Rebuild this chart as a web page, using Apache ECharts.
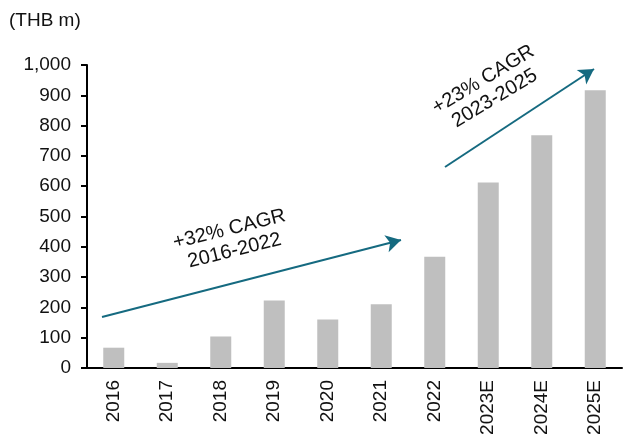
<!DOCTYPE html>
<html>
<head>
  <meta charset="UTF-8" />
  <script src="https://cdn.jsdelivr.net/npm/echarts@6/dist/echarts.min.js"></script>
  <style>
    body { margin: 0; padding: 0; background: #fff; }
    #main { width: 623px; height: 440px; }
  </style>
</head>
<body>
  <div id="main"></div>
  <script>
    const years = ['2016', '2017', '2018', '2019', '2020', '2021', '2022', '2023E', '2024E', '2025E'];
    const revenue = [67, 17, 104, 223, 160, 210, 367, 612, 768, 917];
    const yTicks = { min: 0, max: 1000, step: 100 };

    const font = '"Liberation Sans", Arial, sans-serif';
    const teal = '#156a80';

    let chart = echarts.init(document.getElementById('main'));

    chart.setOption({
      backgroundColor: '#fff',
      animation: false,
      grid: { left: 87, right: 1, top: 65, bottom: 72 },
      xAxis: {
        type: 'category',
        data: years,
        axisLine: { lineStyle: { color: '#000', width: 2 } },
        axisTick: { length: 6, lineStyle: { color: '#000', width: 2 } },
        axisLabel: {
          rotate: 90,
          margin: 12,
          color: '#111',
          fontSize: 19,
          fontFamily: font
        }
      },
      yAxis: {
        type: 'value',
        min: yTicks.min,
        max: yTicks.max,
        interval: yTicks.step,
        splitLine: { show: false },
        axisLine: { show: true, lineStyle: { color: '#000', width: 2 } },
        axisTick: { show: true, length: 6, lineStyle: { color: '#000', width: 2 } },
        axisLabel: {
          margin: 16,
          color: '#111',
          fontSize: 19,
          fontFamily: font,
          formatter: v => v.toLocaleString('en-US')
        }
      },
      series: [{
        type: 'bar',
        data: revenue,
        barWidth: 21,
        itemStyle: { color: '#bfbfbf' },
        markLine: {
          silent: true,
          symbol: ['none', 'arrow'],
          symbolSize: [13, 15],
          label: { show: false },
          lineStyle: { color: teal, width: 2, type: 'solid' },
          data: [
            [{ x: 102, y: 317 }, { x: 401, y: 240 }],
            [{ x: 445, y: 167 }, { x: 594, y: 69 }]
          ]
        }
      }],
      graphic: [
        {
          type: 'text',
          left: 9,
          top: 11,
          style: { text: '(THB m)', fill: '#111', font: '19px ' + font }
        },
        {
          type: 'text',
          x: 232,
          y: 240,
          rotation: 14 * Math.PI / 180,
          style: {
            text: '+32% CAGR\n2016-2022',
            fill: '#111',
            font: '20px ' + font,
            align: 'center',
            verticalAlign: 'middle',
            lineHeight: 22
          }
        },
        {
          type: 'text',
          x: 489,
          y: 89,
          rotation: 31 * Math.PI / 180,
          style: {
            text: '+23% CAGR\n2023-2025',
            fill: '#111',
            font: '20px ' + font,
            align: 'center',
            verticalAlign: 'middle',
            lineHeight: 22
          }
        }
      ]
    });
  </script>
</body>
</html>
